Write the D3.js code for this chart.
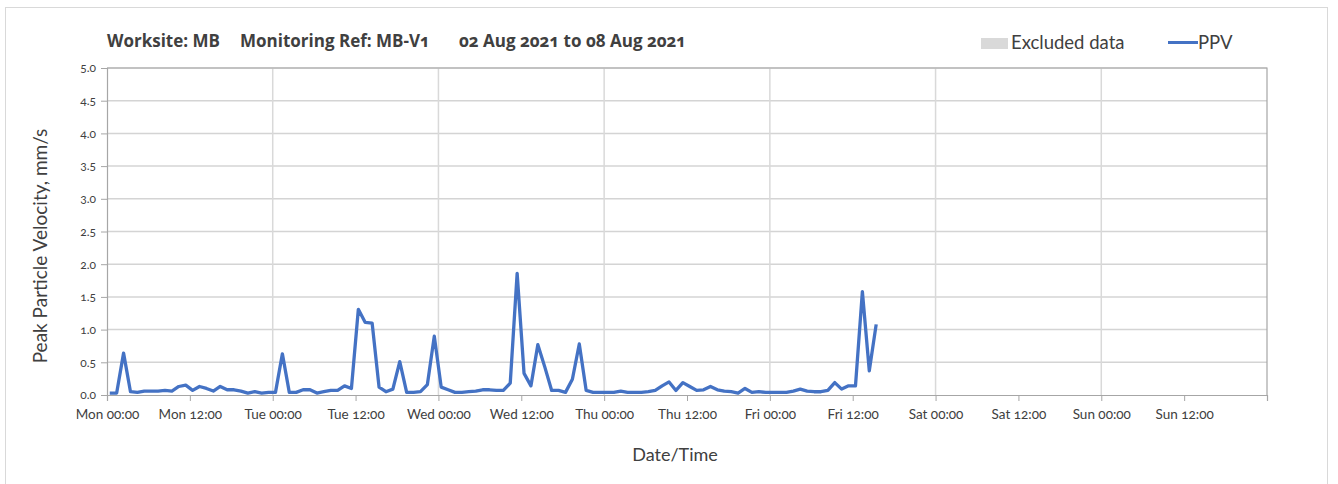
<!DOCTYPE html>
<html><head><meta charset="utf-8">
<script src="https://cdn.jsdelivr.net/npm/d3@7"></script>
<style>
body{margin:0;background:#fff;}
text{font-family:Lato,"Open Sans",sans-serif;fill:#404040;font-variant-numeric:oldstyle-nums;}
</style></head>
<body><svg id="c" width="1338" height="484"></svg>
<script>
// ---- data ----
const titleParts = ["Worksite: MB", "Monitoring Ref: MB-V1", "02 Aug 2021 to 08 Aug 2021"];
const startTime = "2021-08-02T00:24:00Z";   // first reading, hourly readings
const stepHours = 1;
const ppv = [0.03,0.03,0.64,0.05,0.04,0.06,0.06,0.06,0.07,0.06,0.13,0.15,0.07,0.13,0.10,0.06,0.13,0.08,0.08,0.06,
  0.03,0.05,0.03,0.04,0.04,0.63,0.04,0.04,0.08,0.08,0.03,0.05,0.07,0.07,0.14,0.10,1.31,1.11,1.10,0.12,
  0.05,0.09,0.51,0.04,0.04,0.05,0.16,0.90,0.12,0.08,0.04,0.04,0.05,0.06,0.08,0.08,0.07,0.07,0.18,1.86,
  0.33,0.14,0.77,0.43,0.07,0.07,0.04,0.24,0.78,0.07,0.04,0.04,0.04,0.04,0.06,0.04,0.04,0.04,0.05,0.07,
  0.14,0.20,0.07,0.19,0.13,0.07,0.08,0.13,0.08,0.06,0.05,0.03,0.10,0.04,0.05,0.04,0.04,0.04,0.04,0.06,
  0.09,0.06,0.05,0.05,0.07,0.19,0.09,0.14,0.14,1.58,0.37,1.08];
const xDomain = ["2021-08-02T00:00:00Z", "2021-08-09T00:00:00Z"];
const yDomain = [0, 5];
const yTicks = [0,0.5,1,1.5,2,2.5,3,3.5,4,4.5,5];
const legendItems = ["Excluded data", "PPV"];
const yLabel = "Peak Particle Velocity, mm/s";
const xLabel = "Date/Time";

// ---- chart ----
const svg = d3.select("#c");
const L = 107, R = 1267, T = 68, B = 395;
const x = d3.scaleUtc().domain(xDomain.map(d => new Date(d))).range([L, R]);
const y = d3.scaleLinear().domain(yDomain).range([B, T]);
const t0 = new Date(startTime).getTime();
const data = ppv.map((v, i) => ({t: new Date(t0 + i * stepHours * 3600e3), v}));

// outer frame
svg.append("rect").attr("x", 5.5).attr("y", 7.5).attr("width", 1322).attr("height", 500)
  .attr("fill", "none").attr("stroke", "#d9d9d9").attr("stroke-width", 1);

// gridlines
svg.append("g").selectAll("line").data(yTicks.filter(d => d > 0)).join("line")
  .attr("x1", L).attr("x2", R).attr("y1", d => y(d)).attr("y2", d => y(d))
  .attr("stroke", "#d4d4d4").attr("stroke-width", 1.5);
const dayTicks = d3.utcDay.range(x.domain()[0], x.domain()[1]).slice(1);
svg.append("g").selectAll("line").data(dayTicks).join("line")
  .attr("x1", d => x(d)).attr("x2", d => x(d)).attr("y1", T).attr("y2", B)
  .attr("stroke", "#d9d9d9").attr("stroke-width", 1.5);
// plot border top/right
svg.append("path").attr("d", `M${L},${T}H${R}V${B}`).attr("fill", "none")
  .attr("stroke", "#a6a6a6").attr("stroke-width", 1.2);

// y axis
const yAxis = svg.append("g").attr("transform", `translate(${L},0)`)
  .call(d3.axisLeft(y).tickValues(yTicks).tickFormat(d3.format(".1f")).tickSize(6).tickPadding(5));
yAxis.select(".domain").attr("stroke", "#a6a6a6").attr("stroke-width", 1.2);
yAxis.selectAll(".tick line").attr("stroke", "#a6a6a6");
yAxis.selectAll("text").style("font-size", "12px").attr("fill", "#404040").style("font-family", "Lato");

// x axis
const xTicks = d3.utcHour.every(12).range(x.domain()[0], new Date(x.domain()[1].getTime() + 1));
const fmt = d3.utcFormat("%a %H:%M");
const xAxis = svg.append("g").attr("transform", `translate(0,${B})`)
  .call(d3.axisBottom(x).tickValues(xTicks).tickFormat(d => d.getTime() === x.domain()[1].getTime() ? "" : fmt(d)).tickSize(6).tickPadding(8));
xAxis.select(".domain").attr("stroke", "#a6a6a6").attr("stroke-width", 1.2);
xAxis.selectAll(".tick line").attr("stroke", "#a6a6a6");
xAxis.selectAll("text").style("font-size", "13.5px").attr("fill", "#404040").style("font-family", "Lato");

// line
svg.append("path").datum(data)
  .attr("d", d3.line().x(d => x(d.t)).y(d => y(d.v)))
  .attr("fill", "none").attr("stroke", "#4472C4").attr("stroke-width", 3.3).attr("stroke-linejoin", "round");

// title
const titleX = [107, 240, 459];
svg.append("g").selectAll("text").data(titleParts).join("text")
  .attr("x", (d, i) => titleX[i]).attr("y", 47).text(d => d)
  .style("font-family", "'Open Sans'").style("font-size", "17px").style("font-weight", "bold").attr("fill", "#1a1a1a");

// legend
svg.append("rect").attr("x", 981).attr("y", 38).attr("width", 27).attr("height", 11).attr("fill", "#d9d9d9");
svg.append("text").attr("x", 1011).attr("y", 49).text(legendItems[0]).style("font-size", "18.5px");
svg.append("line").attr("x1", 1168).attr("x2", 1198).attr("y1", 42.5).attr("y2", 42.5)
  .attr("stroke", "#4472C4").attr("stroke-width", 3);
svg.append("text").attr("x", 1198).attr("y", 49).text(legendItems[1]).style("font-size", "18.5px");

// axis titles
svg.append("text").attr("transform", "translate(47,246) rotate(-90)").attr("text-anchor", "middle")
  .text(yLabel).style("font-size", "19px");
svg.append("text").attr("x", 675).attr("y", 461).attr("text-anchor", "middle")
  .text(xLabel).style("font-size", "18px");
</script></body></html>
